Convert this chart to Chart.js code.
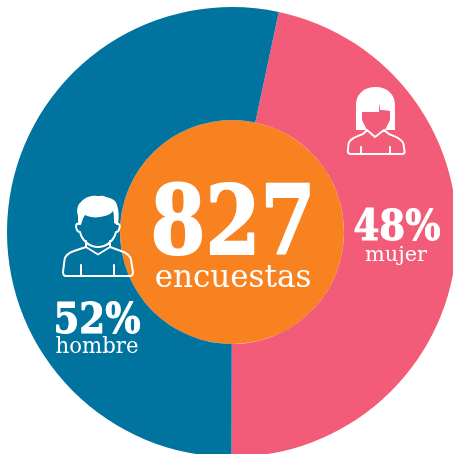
<!DOCTYPE html>
<html>
<head>
<meta charset="utf-8">
<title>827 encuestas</title>
<script src="https://cdn.jsdelivr.net/npm/chart.js@4/dist/chart.umd.min.js"></script>
<style>
  html, body { margin: 0; padding: 0; background: #fff; width: 453px; height: 454px; overflow: hidden; }
  #wrap { position: relative; width: 453px; height: 454px; overflow: hidden; }
  #wrap canvas { position: absolute; left: 0; top: 0; }
  #icons { position: absolute; left: 0; top: 0; }
</style>
</head>
<body>
<div id="wrap">
  <canvas id="pie" width="464" height="464" style="width:464px;height:464px"></canvas>
  <svg id="icons" width="453" height="454" viewBox="0 0 453 454" fill="none" stroke="#fff" stroke-width="2" stroke-linejoin="round" stroke-linecap="round">
    <!-- mujer -->
    <path fill="#fff" stroke="none" d="M356 130V105C356 94 364 87 375.500 87C387 87 395 94 395 105V130H385L390 120L390 111L380 110L379.500 103L379 112L362 112L362 120L367 130Z"/>
    <path fill="#f25c78" stroke="none" d="M362 112H379L379.500 103L380 110L390 111C390.500 119 386 124 381 128C378 130 373 130 370 128C365 124 361.500 119 362 112Z"/>
    <path d="M367 130L375 137L384 130M367 130L363 134C355 137 349.500 139 348.500 144L347.800 151C347.800 153 349 154 351 154H402C404 154 405 153 404.500 151L403.500 144C402 139 396 137 389 134L384 130M361 147V154M390 147V154"/>
    <!-- hombre -->
    <path fill="#fff" stroke="none" d="M78 216C76 209 78 204 81 202C85 197 92 195 97 196C100 196 103 195 106 197C111 198 116 200 117 205C119 211 119 217 118 225L114 223C114 218 114 214 113 211C111 214 107 216 100 217C95 218 89 217 85 215C83 218 82 221 81 225L78 224Z"/>
    <path d="M79 224C76 223 75 226 77 230C78 232 79 232 80 232C82 241 90 247 98 247C106 247 114 241 116 232C117 232 119 232 119 229C121 226 119 223 117 224M86 241V247L74 251C68 253 65 256 64.500 260L63 272C63 274.500 64 276 66 276H130C132 276 133 274.500 133 272L131 260C130.500 256 127 253 121 251L110 247V241M86 247L98 254.500L110 247M81 265V276M114 265V276"/>
  </svg>
</div>
<script>
const categories = ['mujer', 'hombre'];
const percentLabels = ['48%', '52%'];
// slices as drawn in the picture, the printed percentages sit a little off them
const sliceValues = [46.7, 53.3];
const totalValues = [827];
const totalLabel = 'encuestas';
const colors = ['#f25c78', '#00749f'];
const totalColor = '#f7821f';

const textPlugin = {
  id: 'centerText',
  afterDraw(chart) {
    const ctx = chart.ctx;
    const put = (text, font, x, y, w, heavy) => {
      ctx.font = font;
      if (heavy) {
        ctx.strokeStyle = '#fff';
        ctx.lineWidth = heavy;
        ctx.lineJoin = 'round';
        ctx.strokeText(text, x, y, w);
      }
      ctx.fillText(text, x, y, w);
    };
    ctx.save();
    ctx.fillStyle = '#fff';
    ctx.textAlign = 'center';
    ctx.textBaseline = 'alphabetic';
    put(String(totalValues[0]), 'bold 96px "DejaVu Serif"', 233, 254, 165, 2);
    put(totalLabel, '31px "DejaVu Serif"', 233, 287, 157);
    put(percentLabels[0], 'bold 42px "DejaVu Serif"', 397, 240, 87, 1);
    put(categories[0], '21px "DejaVu Serif"', 396, 261, 62);
    put(percentLabels[1], 'bold 42px "DejaVu Serif"', 97, 333, 87, 1);
    put(categories[1], '22px "DejaVu Serif"', 97, 353, 83);
    ctx.restore();
  }
};

new Chart(document.getElementById('pie'), {
  type: 'pie',
  data: {
    labels: categories,
    datasets: [
      { data: sliceValues, backgroundColor: colors, borderWidth: 0, weight: 113 },
      { data: totalValues, backgroundColor: [totalColor], borderWidth: 0, weight: 112 }
    ]
  },
  options: {
    responsive: false,
    animation: false,
    rotation: 12,
    layout: { padding: 7 },
    plugins: { legend: { display: false }, tooltip: { enabled: false } }
  },
  plugins: [textPlugin]
});
</script>
</body>
</html>
